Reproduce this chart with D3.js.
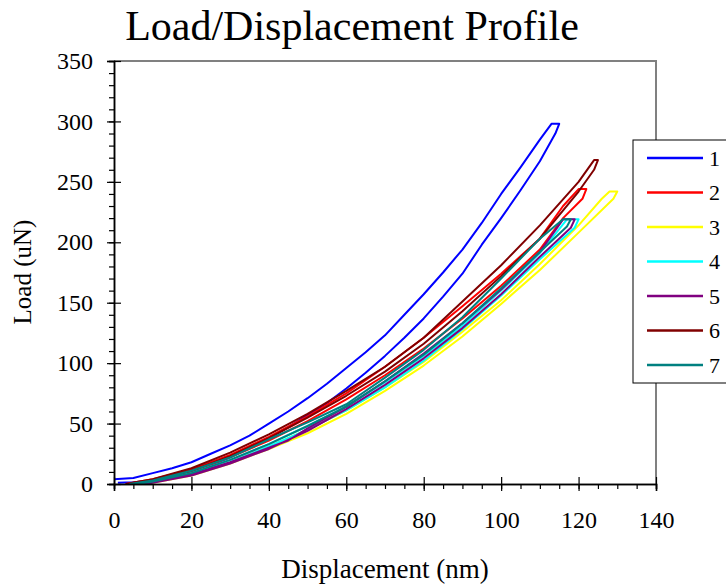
<!DOCTYPE html>
<html>
<head>
<meta charset="utf-8">
<script src="https://cdn.jsdelivr.net/npm/d3@7"></script>
<style>
  body { margin: 0; background: #fff; }
  text { font-family: "Liberation Serif", "Times New Roman", serif; fill: #000; }
</style>
</head>
<body>
<div id="chart"></div>
<script>
const width = 726;
const height = 586;

// sample names and colours
const names = ["1", "2", "3", "4", "5", "6", "7"];
const colors = ["#0000ff", "#ff0000", "#ffff00", "#00ffff", "#800080", "#800000", "#008080"];

// loading then unloading branch, [displacement nm, load uN]
const s1 = [[0,4],[5,5],[10,9],[15,13],[20,18],[25,25],[30,32],[35,40],[40,50],[45,60],[50,71],[55,83],[60,96],[65,109],[70,123],[75,140],[80,157],[85,175],[90,194],[95,216],[100,240],[105,262],[110,285],[113,298],
  [115,298],[114,290],[110,267],[105,243],[100,220],[95,198],[90,174],[85,155],[80,137],[75,121],[70,106],[65,92],[60,79],[55,67],[50,57],[45,47],[40,38],[35,30],[30,22],[25,15],[20,10],[15,6],[10,3],[5,1.5],[1,1]];
const s2 = [[3,0],[10,4],[20,12],[30,24],[40,39],[50,56],[60,75],[70,97],[80,121],[90,147],[100,174],[110,203],[116,230],[120,244],
  [122,244],[121,236],[116,220],[110,194],[100,164],[90,137],[80,112],[70,90],[60,70],[50,52],[40,36],[30,22],[20,10],[10,3],[5,0]];
const s3 = [[4,0],[10,2],[20,8],[30,18],[40,31],[50,45],[60,61],[70,80],[80,101],[90,126],[100,152],[110,182],[120,214],[126,236],[128,242],
  [130,242],[129,236],[120,208],[110,177],[100,149],[90,122],[80,98],[70,77],[60,58],[50,42],[40,29],[30,17],[20,7],[10,1],[7,0]];
const s4 = [[5,0],[10,2],[20,9],[30,20],[40,33],[50,48],[60,64],[70,84],[80,106],[90,131],[100,160],[110,191],[117,219],
  [120,219],[119,212],[110,186],[100,156],[90,128],[80,102],[70,80],[60,61],[50,45],[40,31],[30,18],[20,8],[10,1.5],[7,0]];
const s5 = [[5,0],[10,2],[20,8],[30,18],[40,30],[45,36],[50,46],[60,64],[70,85],[80,108],[90,133],[100,161],[110,192],[116,219],
  [119,219],[118,212],[110,188],[100,157],[90,129],[80,104],[70,82],[60,62],[50,44],[40,29],[30,17],[20,7],[10,1],[8,0]];
const s6 = [[3,0],[10,4],[20,13],[30,26],[40,41],[50,58],[60,77],[70,97],[80,121],[90,151],[100,181],[110,214],[120,250],[124,268],
  [125,268],[124,260],[120,242],[110,203],[100,172],[90,143],[80,116],[70,93],[60,73],[50,55],[40,38],[30,23],[20,11],[10,3],[6,0]];
const s7 = [[4,0],[10,3],[20,11],[30,22],[40,37],[50,51],[60,66],[70,88],[80,111],[90,138],[100,170],[110,203],[116,219],
  [118,219],[117,213],[110,192],[100,162],[90,133],[80,107],[70,85],[60,64],[50,48],[40,33],[30,20],[20,9],[10,2],[6,0]];
const series = [s1, s2, s3, s4, s5, s6, s7];

const xTicks = [0, 20, 40, 60, 80, 100, 120, 140];
const yTicks = [0, 50, 100, 150, 200, 250, 300, 350];

const margin = { left: 114, right: 70, top: 61, bottom: 102 };

const svg = d3.select("#chart")
  .append("svg")
  .attr("width", width)
  .attr("height", height);

const x = d3.scaleLinear().domain([0, 140]).range([margin.left, width - margin.right]);
const y = d3.scaleLinear().domain([0, 350]).range([height - margin.bottom, margin.top]);

// plot frame (top/right in grey)
svg.append("path")
  .attr("d", `M${x(0)},${y(350)}H${x(140)}V${y(0)}`)
  .attr("fill", "none")
  .attr("stroke", "#808080")
  .attr("stroke-width", 2);

// curves
const line = d3.line().x(d => x(d[0])).y(d => y(d[1]));
svg.append("g")
  .selectAll("path")
  .data(series)
  .join("path")
  .attr("d", line)
  .attr("fill", "none")
  .attr("stroke", (d, i) => colors[i])
  .attr("stroke-width", 2)
  .attr("stroke-linejoin", "round");

// minor ticks
const xAxisMinor = d3.axisBottom(x).tickValues(d3.range(0, 141, 5)).tickSize(5).tickFormat("");
const yAxisMinor = d3.axisLeft(y).tickValues(d3.range(0, 351, 10)).tickSize(5).tickFormat("");
svg.append("g").attr("transform", `translate(0,${y(0)})`).call(xAxisMinor);
svg.append("g").attr("transform", `translate(${x(0)},0)`).call(yAxisMinor);

// major axes, ticks crossing the axis line
const xAxis = svg.append("g")
  .attr("transform", `translate(0,${y(0)})`)
  .call(d3.axisBottom(x).tickValues(xTicks).tickSize(7).tickPadding(20));
xAxis.selectAll(".tick line").attr("y1", -7);
xAxis.selectAll("text").style("font-size", "24px").style("font-family", "Liberation Serif");

const yAxis = svg.append("g")
  .attr("transform", `translate(${x(0)},0)`)
  .call(d3.axisLeft(y).tickValues(yTicks).tickSize(7).tickPadding(14));
yAxis.selectAll(".tick line").attr("x1", 7);
yAxis.selectAll("text").style("font-size", "24px").style("font-family", "Liberation Serif");

svg.selectAll(".domain").attr("stroke", "#000").attr("stroke-width", 1.5);
svg.selectAll(".tick line").attr("stroke", "#000").attr("stroke-width", 1.2);

// titles
svg.append("text")
  .attr("x", 352)
  .attr("y", 40)
  .attr("text-anchor", "middle")
  .style("font-size", "42px")
  .text("Load/Displacement Profile");

svg.append("text")
  .attr("x", (x(0) + x(140)) / 2)
  .attr("y", 578)
  .attr("text-anchor", "middle")
  .style("font-size", "27px")
  .text("Displacement (nm)");

svg.append("text")
  .attr("transform", "translate(31,272) rotate(-90)")
  .attr("text-anchor", "middle")
  .style("font-size", "25px")
  .text("Load (uN)");

// legend
const legend = svg.append("g").attr("transform", "translate(633,140)");
legend.append("rect")
  .attr("width", 120)
  .attr("height", 243)
  .attr("fill", "#fff")
  .attr("stroke", "#000")
  .attr("stroke-width", 1);

const item = legend.selectAll("g.item")
  .data(names)
  .join("g")
  .attr("class", "item")
  .attr("transform", (d, i) => `translate(0,${18 + i * 34.5})`);
item.append("line")
  .attr("x1", 14).attr("x2", 70)
  .attr("stroke", (d, i) => colors[i])
  .attr("stroke-width", 2.5);
item.append("text")
  .attr("x", 76)
  .attr("dy", "0.35em")
  .style("font-size", "22px")
  .text(d => d);
</script>
</body>
</html>
